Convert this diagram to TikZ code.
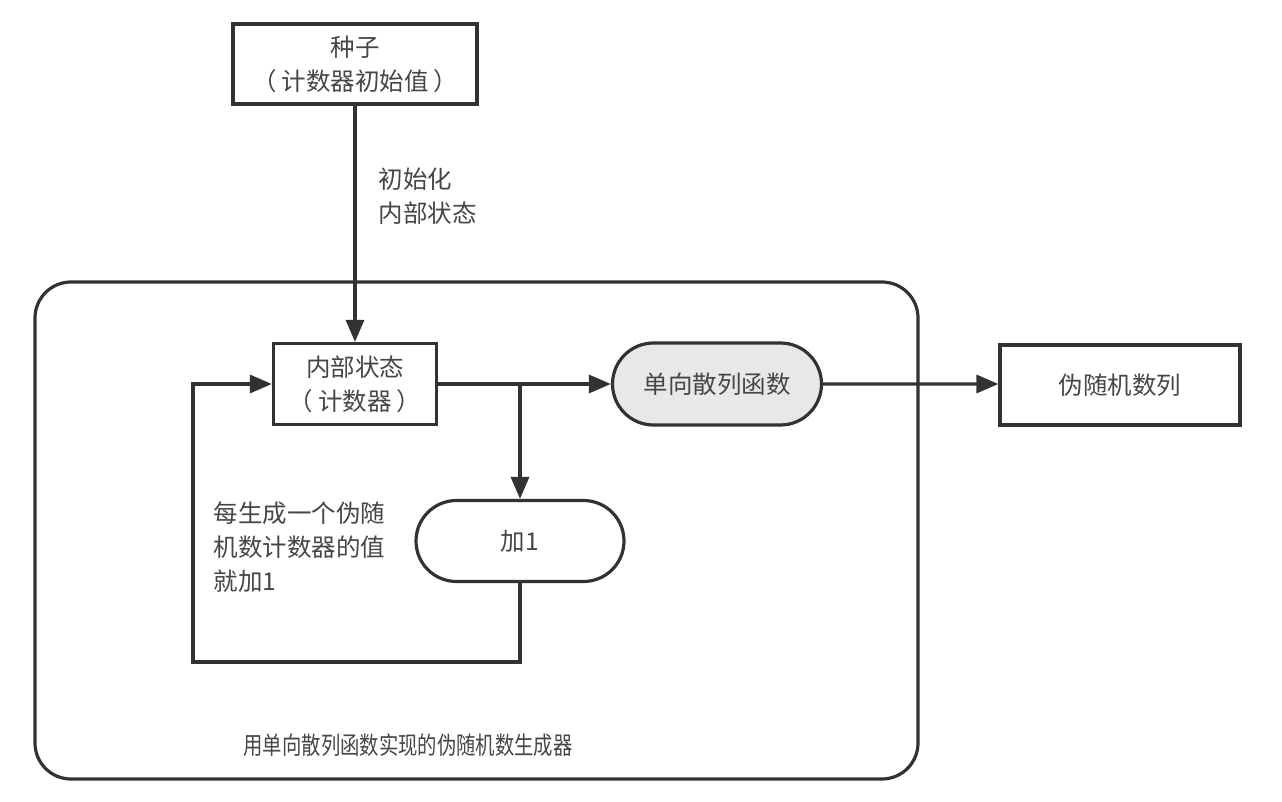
\documentclass[tikz,border=0pt]{standalone}
\usepackage{fontspec}
\setmainfont{Noto Sans CJK SC}
\usepackage{xcolor}
\usetikzlibrary{arrows.meta,positioning,shapes.misc}
\definecolor{ink}{RGB}{50,50,50}
\definecolor{txt}{RGB}{70,70,70}
\definecolor{hashgray}{RGB}{232,232,232}

\begin{document}
\begin{tikzpicture}[x=1pt,y=-1pt,>={Triangle[length=22pt,width=18pt]},line width=3.2pt,
    box/.style={draw=ink,rectangle,inner sep=0pt,align=center,text=txt,font=\fontsize{24.5}{34}\selectfont},
    pill/.style={draw=ink,rounded rectangle,inner sep=0pt,text=txt,font=\fontsize{24.5}{34}\selectfont},
    note/.style={inner sep=0pt,align=left,text=txt,font=\fontsize{24.5}{34}\selectfont}]
  \useasboundingbox (0,0) rectangle (1282,802);
  % outer frame of the generator
  \draw[ink,rounded corners=36pt] (35,282) rectangle (918,779);
  \node[note,anchor=west] (caption) at (242,745) {\scalebox{0.79}[1]{用单向散列函数实现的伪随机数生成器}};
  % blocks
  \node[box,minimum width=244pt,minimum height=80pt] (seed) at (355,64) {种子\\（\hspace{5pt}计数器初始值\hspace{5pt}）};
  \node[box,minimum width=163pt,minimum height=81pt] (state) at (355,384) {内部状态\\（\hspace{5pt}计数器\hspace{5pt}）};
  \node[pill,fill=hashgray,minimum width=209pt,minimum height=82pt] (hashfn) at (717,384) {单向散列函数};
  \node[pill,minimum width=208pt,minimum height=81pt] (incr) at (520,541) {加1};
  \node[box,minimum width=240pt,minimum height=80pt] (prng) at (1120,385) {伪随机数列};
  % notes
  \node[note,anchor=west] (initlbl) at (377,196) {初始化\\内部状态};
  \node[note,anchor=west] (looplbl) at (212,547) {每生成一个伪随\\机数计数器的值\\就加1};
  % connectors
  \coordinate (split) at (incr.north |- state.east);
  \coordinate (loopbl) at (193,662);
  \draw[ink,->] (seed) -- (state);
  \draw[ink,->] (state) -- (hashfn);
  \draw[ink,->] (split) -- (incr.north);
  \draw[ink,->] (incr.south) -- (incr.south |- loopbl) -- (loopbl) |- (state.west);
  \draw[ink,->] (hashfn) -- (hashfn.east -| prng.west);
\end{tikzpicture}
\end{document}
